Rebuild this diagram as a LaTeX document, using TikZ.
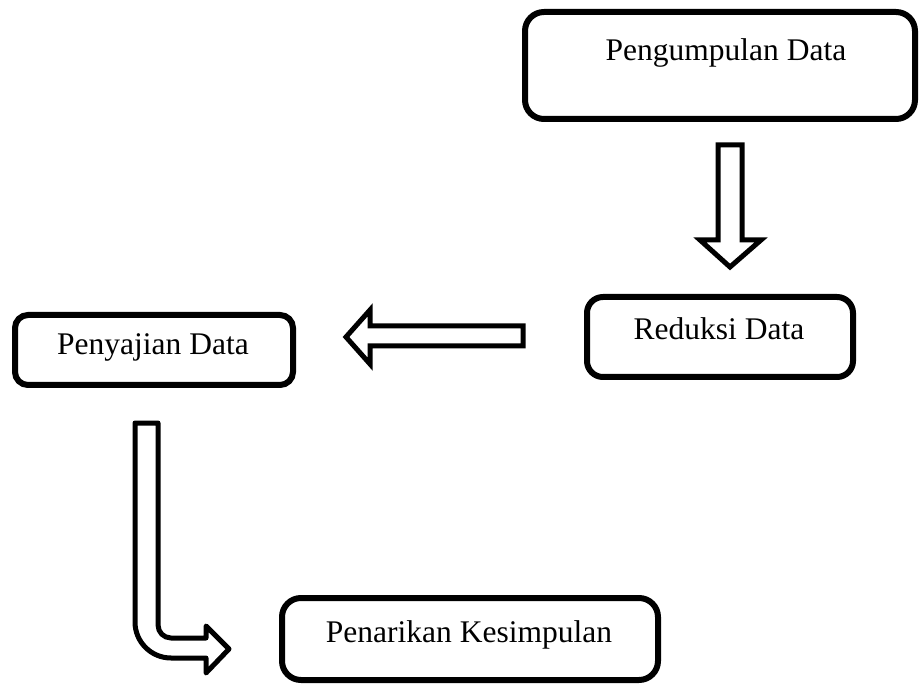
\documentclass[tikz,border=0pt]{standalone}
\usepackage{fontspec}
\setmainfont{Liberation Serif}
\begin{document}
\begin{tikzpicture}[x=1pt,y=-1pt,
  box/.style={draw=black, line width=6pt, fill=white, inner sep=0pt},
  txt/.style={anchor=base, inner sep=0pt, font=\fontsize{31.5}{38}\selectfont},
  blockarrow/.style={draw=black, line width=5pt, fill=white, line join=miter},
  bentarrow/.style={draw=black, line width=5pt, fill=white, line join=round}]
\useasboundingbox (0,0) rectangle (921,684);
% boxes
\node[box, rounded corners=19pt, minimum width=390pt, minimum height=107pt] (pd) at (720,65.5) {};
\node[txt] (pdt) at (726,61) {Pengumpulan Data};
\node[box, rounded corners=16pt, minimum width=266pt, minimum height=80pt] (rd) at (720,337) {};
\node[txt] (rdt) at (719,340) {Reduksi Data};
\node[box, rounded corners=13pt, minimum width=278pt, minimum height=70pt] (sd) at (154,350) {};
\node[txt] (sdt) at (153,355) {Penyajian Data};
\node[box, rounded corners=19pt, minimum width=376pt, minimum height=82pt] (pk) at (470,639) {};
\node[txt] (pkt) at (469,642) {Penarikan Kesimpulan};
% down arrow (Pengumpulan -> Reduksi)
\draw[blockarrow] (718,145) -- (742,145) -- (742,240) -- (761,240) -- (730,267)
  -- (700,240) -- (718,240) -- cycle;
% left arrow (Reduksi -> Penyajian)
\draw[blockarrow] (523,326) -- (523,346) -- (370,346) -- (370,364) -- (346,337)
  -- (370,310) -- (370,326) -- cycle;
% bent arrow (Penyajian -> Penarikan)
\draw[bentarrow] (135,423) -- (158,423) -- (158,625)
  .. controls (158,632.2) and (163.8,638) .. (171,638)
  -- (206,638) -- (206,626) -- (229,649) -- (206,673) -- (206,658) -- (171,658)
  .. controls (151.1,658) and (135,641.9) .. (135,622) -- cycle;
\end{tikzpicture}
\end{document}
